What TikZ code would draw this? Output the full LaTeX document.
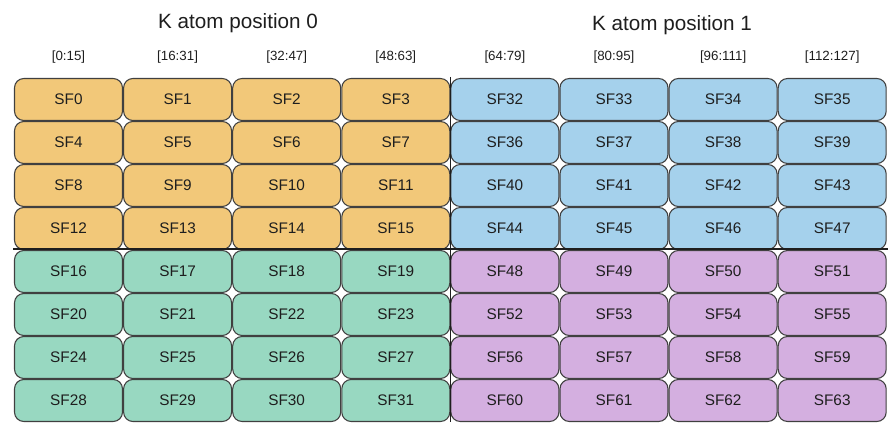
\documentclass[tikz,border=0pt]{standalone}
\usepackage{fontspec}
\setmainfont{Liberation Sans}
\usepackage{tikz}

\definecolor{sforange}{HTML}{F2C879}
\definecolor{sfblue}{HTML}{A5D1EC}
\definecolor{sfgreen}{HTML}{98D8C1}
\definecolor{sfpurple}{HTML}{D4AFE0}
\definecolor{ink}{HTML}{1E1E1E}

\begin{document}
\begin{tikzpicture}[x=0.75pt,y=-0.75pt,
        cell/.style={rectangle,draw=ink!85,line width=0.8pt,rounded corners=7pt,
                minimum width=81pt,minimum height=31.5pt,inner sep=0pt,text=ink,
                font=\fontsize{11.5}{13}\selectfont},
        hdr/.style={text=ink,font=\fontsize{10}{12}\selectfont},
        ttl/.style={text=ink,font=\fontsize{15.5}{18}\selectfont}]
        \useasboundingbox (0,0) rectangle (896,431);

        % titles
        \node[ttl] (T0) at (238,23){K atom position 0};
        \node[ttl] (T1) at (672,25){K atom position 1};

        % column ranges
        \foreach \c/\t in {0/{[0:15]},1/{[16:31]},2/{[32:47]},3/{[48:63]},
                4/{[64:79]},5/{[80:95]},6/{[96:111]},7/{[112:127]}}
                \node[hdr] (H\c) at ({68.5+109.1*\c},57){\t};

        % quadrants of SF cells
        \foreach \q/\col/\cx/\ry in {0/sforange/0/0,16/sfgreen/0/4,32/sfblue/4/0,48/sfpurple/4/4}
                \foreach \r in {0,...,3}
                        \foreach \c in {0,...,3}{
                                \pgfmathtruncatemacro\n{\q+4*\r+\c}
                                \node[cell,fill=\col] (SF\n) at ({68.5+109.1*(\cx+\c)},{99.5+43*(\ry+\r)}){SF\n};
                        }

        % separators
        \draw[ink,line width=0.9pt] (450.5,77) -- (450.5,422);
        \draw[ink,line width=0.9pt] (13,249) -- (888,249);
\end{tikzpicture}
\end{document}
